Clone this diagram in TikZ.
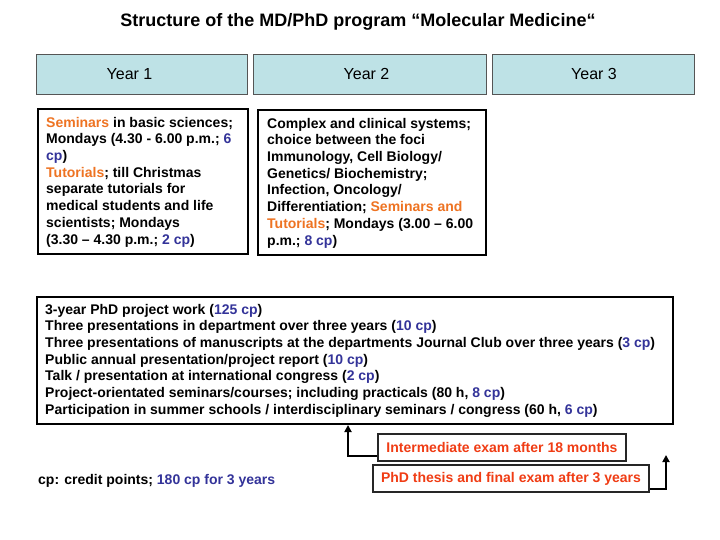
\documentclass[tikz,border=0pt]{standalone}
\usepackage{fontspec}
\setmainfont{Liberation Sans}
\usetikzlibrary{arrows.meta}
\definecolor{yearfill}{HTML}{BEE2E6}
\definecolor{yearline}{HTML}{555555}
\definecolor{orng}{HTML}{EE7322}
\definecolor{cpblue}{HTML}{333399}
\definecolor{examred}{HTML}{F03C14}
\newcommand{\orn}[1]{\textcolor{orng}{#1}}
\newcommand{\cpb}[1]{\textcolor{cpblue}{#1}}
\begin{document}
\begin{tikzpicture}[x=1pt,y=-1pt,
  yearbox/.style={draw=yearline, fill=yearfill, line width=1pt, anchor=north west, inner sep=0pt, minimum height=40pt},
  yearlabel/.style={inner sep=0pt, font=\fontsize{16}{19}\selectfont},
  framebox/.style={draw=black, line width=2pt, anchor=north west, inner sep=0pt},
  bodytext/.style={anchor=north west, inner sep=0pt, align=left, font=\bfseries\fontsize{14}{16.7}\selectfont},
  exambox/.style={draw=black!85, line width=2pt, inner sep=0pt, minimum height=27pt, text=examred, font=\bfseries\fontsize{14}{16}\selectfont},
  arr/.style={line width=2pt, -{Triangle[length=7pt,width=7pt]}}]
\useasboundingbox (0,0) rectangle (720,540);
\fill[white] (0,0) rectangle (720,540);

\node[font=\bfseries\fontsize{18}{21}\selectfont, inner sep=0pt] (title) at (358,22) {Structure of the MD/PhD program “Molecular Medicine“};

\node[yearbox, minimum width=211pt] (y1) at (36,54) {};
\node[yearbox, minimum width=233pt] (y2) at (253,54) {};
\node[yearbox, minimum width=202pt] (y3) at (492,54) {};
\node[yearlabel] (y1t) at (129.5,74) {Year 1};
\node[yearlabel] (y2t) at (366.5,74) {Year 2};
\node[yearlabel] (y3t) at (594,74) {Year 3};

\node[framebox, minimum width=210pt, minimum height=145pt] (b1) at (37,108) {};
\node[bodytext] (b1t) at (46,116.8) {\orn{Seminars} in basic sciences;\\
Mondays (4.30 - 6.00 p.m.; \cpb{6}\\
\cpb{cp})\\
\orn{Tutorials}; till Christmas\\
separate tutorials for\\
medical students and life\\
scientists; Mondays\\
(3.30 – 4.30 p.m.; \cpb{2 cp})};

\node[framebox, minimum width=228pt, minimum height=145pt] (b2) at (257,109) {};
\node[bodytext] (b2t) at (267,117.8) {Complex and clinical systems;\\
choice between the foci\\
Immunology, Cell Biology/\\
Genetics/ Biochemistry;\\
Infection, Oncology/\\
Differentiation; \orn{Seminars and}\\
\orn{Tutorials}; Mondays (3.00 – 6.00\\
p.m.; \cpb{8 cp})};

\node[framebox, minimum width=636pt, minimum height=127pt] (big) at (36,296) {};
\node[bodytext] (bigt) at (45,303.8) {3-year PhD project work (\cpb{125 cp})\\
Three presentations in department over three years (\cpb{10 cp})\\
Three presentations of manuscripts at the departments Journal Club over three years (\cpb{3 cp})\\
Public annual presentation/project report (\cpb{10 cp})\\
Talk / presentation at international congress (\cpb{2 cp})\\
Project-orientated seminars/courses; including practicals (80 h, \cpb{8 cp})\\
Participation in summer schools / interdisciplinary seminars / congress (60 h, \cpb{6 cp})};

\node[exambox, minimum width=248pt] (inter) at (502,447.5) {Intermediate exam after 18 months};
\node[exambox, minimum width=276pt] (phd) at (511,478.5) {PhD thesis and final exam after 3 years};

\node[anchor=base west, inner sep=0pt, font=\bfseries\fontsize{14}{16}\selectfont] (foot) at (38,484) {cp: credit points; \cpb{180 cp for 3 years}};

\coordinate (c348) at (348,0);
\coordinate (a2end) at (666,455);
\draw[arr] ([yshift=-8.5pt]inter.west) -| (big.south -| c348);
\draw[arr] ([yshift=-10.5pt]phd.east) -| (a2end);
\end{tikzpicture}
\end{document}
